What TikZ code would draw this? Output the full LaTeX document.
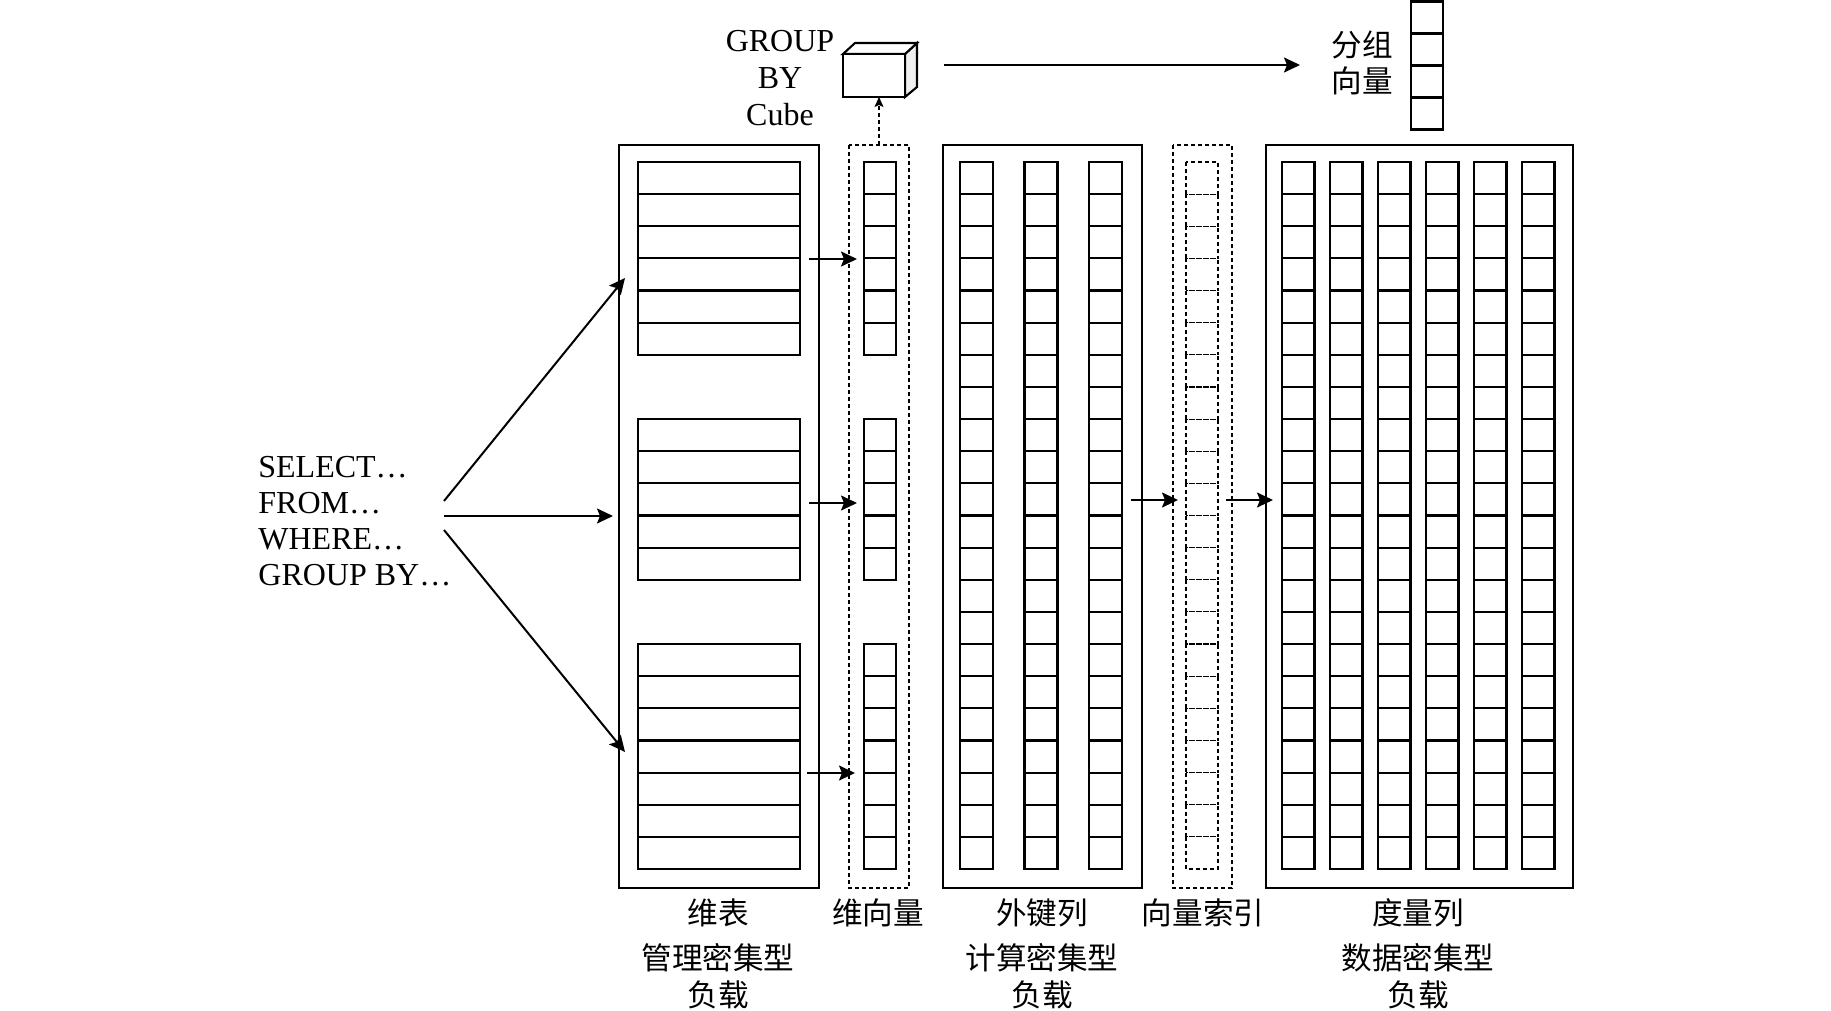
\documentclass[tikz,border=0pt]{standalone}
\usepackage{fontspec}
\setmainfont{Liberation Serif}
\newfontfamily\cjk{Noto Sans CJK SC}
\usetikzlibrary{arrows.meta}
\begin{document}
\begin{tikzpicture}[x=0.5pt,y=-0.5pt,
  box/.style={line width=1.05pt},
  dbox/.style={line width=0.55pt, dash pattern=on 2pt off 1.5pt},
  arr/.style={line width=1pt, -{Stealth[length=8pt,width=7.5pt,inset=1.5pt]}},
  darr/.style={line width=0.55pt, dash pattern=on 2pt off 1.5pt, -{Stealth[length=5pt,width=4.5pt,inset=1pt]}},
  lat/.style={font=\fontsize{16}{18}\selectfont, inner sep=0pt},
  zh/.style={font=\cjk\fontsize{15.3}{18.5}\selectfont, inner sep=0pt, align=center}
]
\useasboundingbox (0,0) rectangle (1831,1011);
\def\r{32.136}
% ---------- dimension tables ----------
\draw[box] (619,145) rectangle (819,888);
\foreach \k in {0,1,2,3,4,5,8,9,10,11,12,15,16,17,18,19,20,21}
  \draw[box] (638,{162+\k*\r}) rectangle (800,{162+(\k+1)*\r});
% ---------- dimension vectors ----------
\draw[dbox] (849,145) rectangle (909,888);
\foreach \k in {0,1,2,3,4,5,8,9,10,11,12,15,16,17,18,19,20,21}
  \draw[box] (864,{162+\k*\r}) rectangle (896,{162+(\k+1)*\r});
% ---------- foreign key columns ----------
\draw[box] (943,145) rectangle (1142,888);
\foreach \c in {960,1024.5,1089}
  \foreach \k in {0,...,21}
    \draw[box] (\c,{162+\k*\r}) rectangle ({\c+33},{162+(\k+1)*\r});
% ---------- vector index ----------
\draw[dbox] (1173,145) rectangle (1232,888);
\foreach \k in {0,...,21}
  \draw[dbox] (1186,{162+\k*\r}) rectangle (1218,{162+(\k+1)*\r});
% ---------- measure columns ----------
\draw[box] (1266,145) rectangle (1573,888);
\foreach \c in {0,...,5}
  \foreach \k in {0,...,21}
    \draw[box] ({1282+48*\c},{162+\k*\r}) rectangle ({1282+48*\c+32.5},{162+(\k+1)*\r});
% ---------- grouping vector ----------
\foreach \k in {0,...,3}
  \draw[box] (1411,{1.5+\k*32}) rectangle (1443,{1.5+(\k+1)*32});
% ---------- cube ----------
\draw[box, fill=gray!12] (905,54) -- (917,43) -- (917,87) -- (905,97) -- cycle;
\draw[box, fill=white] (843,54) -- (855,43) -- (917,43) -- (905,54) -- cycle;
\draw[box, fill=white] (843,54) rectangle (905,97);
% ---------- coordinates ----------
\coordinate (sqlT) at (444,501);
\coordinate (sqlM) at (444,516);
\coordinate (sqlB) at (444,530);
\coordinate (dimT) at (625,278);
\coordinate (dimM) at (613,516);
\coordinate (dimB) at (625,752);
\coordinate (t1) at (809,259);  \coordinate (v1) at (857,259);
\coordinate (t2) at (809,503);  \coordinate (v2) at (857,503);
\coordinate (t3) at (807,773);  \coordinate (v3) at (855,773);
\coordinate (vtop) at (879,145);
\coordinate (cubeB) at (879,97);
\coordinate (cubeR) at (944,65);
\coordinate (gvL) at (1300,65);
\coordinate (fkR) at (1131,500);
\coordinate (ixL) at (1178,500);
\coordinate (ixR) at (1226,500);
\coordinate (mcL) at (1273,500);
% ---------- connectors ----------
\draw[arr] (sqlT) -- (dimT);
\draw[arr] (sqlM) -- (dimM);
\draw[arr] (sqlB) -- (dimB);
\draw[arr] (t1) -- (v1);
\draw[arr] (t2) -- (v2);
\draw[arr] (t3) -- (v3);
\draw[darr] (vtop) -- (cubeB);
\draw[arr] (cubeR) -- (gvL);
\draw[arr] (fkR) -- (ixL);
\draw[arr] (ixR) -- (mcL);
% ---------- texts ----------
\node[lat, align=left, anchor=west] (sql) at (258,521.5) {SELECT…\\FROM…\\WHERE…\\GROUP BY…};
\node[lat, align=center, font=\fontsize{16}{18.5}\selectfont] (gbc) at (780,78.5) {GROUP\\BY\\Cube};
\node[zh, font=\cjk\fontsize{15.3}{18}\selectfont] (gvl) at (1362,62.5) {分组\\向量};
\node[zh] (n1) at (718,913) {维表};
\node[zh] (n2) at (878,913) {维向量};
\node[zh] (n3) at (1042,913) {外键列};
\node[zh] (n4) at (1203,913) {向量索引};
\node[zh] (n5) at (1418,913) {度量列};
\node[zh] (w1) at (718,976.5) {管理密集型\\负载};
\node[zh] (w3) at (1042,976.5) {计算密集型\\负载};
\node[zh] (w5) at (1418,976.5) {数据密集型\\负载};
\end{tikzpicture}
\end{document}
